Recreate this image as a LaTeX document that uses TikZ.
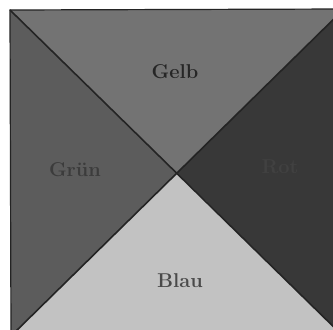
\documentclass[tikz,border=0pt]{standalone}
\begin{document}
\begin{tikzpicture}[x=1pt,y=-1pt,
  lbl/.style={font=\fontsize{20}{20}\selectfont\bfseries, inner sep=0pt}]
\definecolor{cgelb}{gray}{0.45}
\definecolor{cgruen}{gray}{0.36}
\definecolor{crot}{gray}{0.22}
\definecolor{cblau}{gray}{0.76}
\definecolor{cline}{gray}{0.14}
\useasboundingbox (0,0) rectangle (333,330);
\clip (0,0) rectangle (333,330);
\fill[white] (0,0) rectangle (333,330);
\coordinate (tl) at (10,10);
\coordinate (tr) at (344,9);
\coordinate (br) at (344,337);
\coordinate (bl) at (11,336);
\coordinate (c) at (177,173);
\fill[cgelb] (tl) -- (tr) -- (c) -- cycle;
\fill[crot] (tr) -- (br) -- (c) -- cycle;
\fill[cblau] (br) -- (bl) -- (c) -- cycle;
\fill[cgruen] (bl) -- (tl) -- (c) -- cycle;
\draw[cline, line width=1.6pt] (tl) -- (br) (tr) -- (bl);
\draw[cline, line width=1.2pt] (tl) -- (tr) -- (br) -- (bl) -- cycle;
\node[lbl, text=black!85] (gelb) at (175,72) {Gelb};
\node[lbl, text=black!35!cgruen] (gruen) at (75,170) {Grün};
\node[lbl, text=black!62!cblau] (blau) at (180,281) {Blau};
\node[lbl, text=gray!12!crot] (rot) at (280,167) {Rot};
\end{tikzpicture}
\end{document}
